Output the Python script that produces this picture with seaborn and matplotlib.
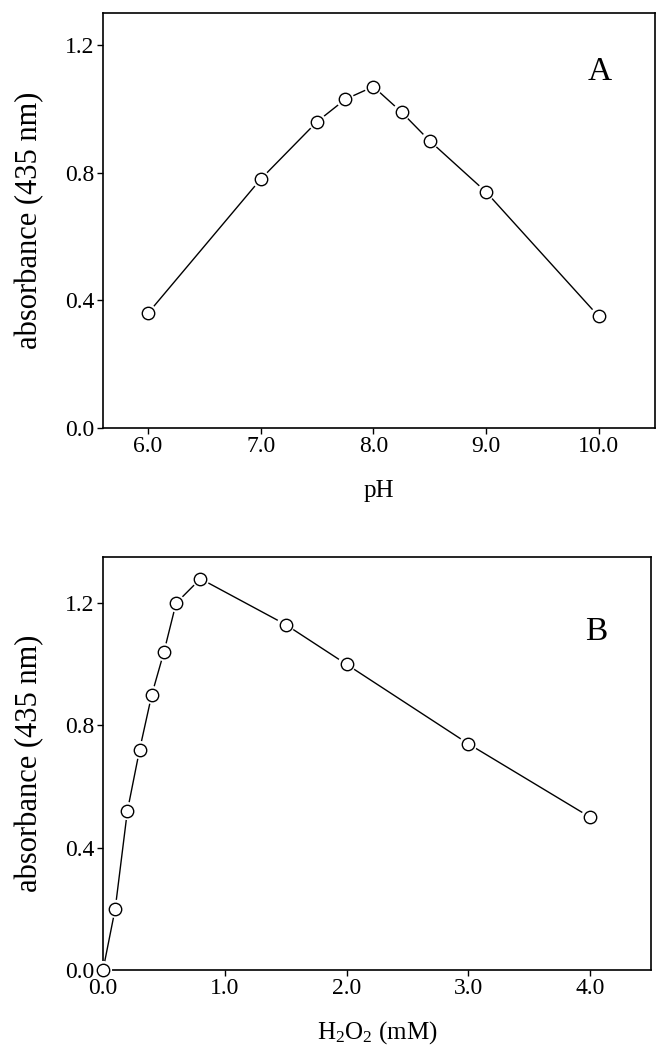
"""Absorbance at 435 nm versus pH (A) and H2O2 concentration (B)."""

import matplotlib
matplotlib.use("Agg")
import matplotlib.pyplot as plt
import pandas as pd
import seaborn as sns

# Panel A: pH dependence
ph_values = [6.0, 7.0, 7.5, 7.75, 8.0, 8.25, 8.5, 9.0, 10.0]
ph_absorbance = [0.36, 0.78, 0.96, 1.03, 1.07, 0.99, 0.90, 0.74, 0.35]

# Panel B: H2O2 concentration dependence
h2o2_mm = [0.0, 0.1, 0.2, 0.3, 0.4, 0.5, 0.6, 0.8, 1.5, 2.0, 3.0, 4.0]
h2o2_absorbance = [0.0, 0.20, 0.52, 0.72, 0.90, 1.04, 1.20, 1.28, 1.13, 1.00, 0.74, 0.50]

y_ticks = [0.0, 0.4, 0.8, 1.2]
ph_ticks = [6.0, 7.0, 8.0, 9.0, 10.0]
h2o2_ticks = [0.0, 1.0, 2.0, 3.0, 4.0]


def draw_panel(ax, df, xcol, xlim, ylim, xticks, xlabel, xpad, letter, letter_y):
    """Line through the points, open circles with a white halo on top."""
    sns.lineplot(data=df, x=xcol, y='absorbance', ax=ax, color='black',
                 linewidth=1.0, sort=False, zorder=2)
    # white halo so the line stops short of each marker
    sns.scatterplot(data=df, x=xcol, y='absorbance', ax=ax, s=170,
                    color='white', edgecolor='none', zorder=3, clip_on=False)
    sns.scatterplot(data=df, x=xcol, y='absorbance', ax=ax, s=80,
                    facecolor='white', edgecolor='black', linewidth=1.0,
                    zorder=4, clip_on=False)
    ax.set_xlim(*xlim)
    ax.set_ylim(*ylim)
    ax.set_xticks(xticks)
    ax.set_xticklabels([f'{t:.1f}' for t in xticks])
    ax.set_yticks(y_ticks)
    ax.set_yticklabels([f'{t:.1f}' for t in y_ticks])
    ax.set_xlabel(xlabel, fontsize=18, labelpad=xpad)
    ax.set_ylabel('absorbance (435 nm)', fontsize=22, labelpad=15)
    ax.tick_params(axis='both', labelsize=17, length=4, width=1.0, pad=2,
                   direction='out', top=False, right=False, colors='black')
    for spine in ax.spines.values():
        spine.set_visible(True)
        spine.set_linewidth(1.2)
        spine.set_color('black')
    ax.text(0.90, letter_y, letter, transform=ax.transAxes, fontsize=24,
            ha='center', va='center', color='black')


def main() -> None:
    sns.set_theme(style='ticks')
    plt.rcParams['font.family'] = ['Liberation Serif', 'DejaVu Serif']
    plt.rcParams['mathtext.fontset'] = 'custom'
    plt.rcParams['mathtext.rm'] = 'Liberation Serif'
    plt.rcParams['mathtext.it'] = 'Liberation Serif:italic'
    plt.rcParams['text.color'] = 'black'
    plt.rcParams['axes.labelcolor'] = 'black'

    df_ph = pd.DataFrame({'pH': ph_values, 'absorbance': ph_absorbance})
    df_h2o2 = pd.DataFrame({'h2o2': h2o2_mm, 'absorbance': h2o2_absorbance})

    fig = plt.figure(figsize=(6.69, 10.5), dpi=100)
    ax_a = fig.add_axes([0.154, 0.5924, 0.825, 0.395])
    ax_b = fig.add_axes([0.154, 0.0762, 0.819, 0.393])

    draw_panel(ax_a, df_ph, 'pH', (5.6, 10.5), (0.0, 1.3), ph_ticks,
               'pH', 16, 'A', 0.86)
    draw_panel(ax_b, df_h2o2, 'h2o2', (0.0, 4.5), (0.0, 1.35), h2o2_ticks,
               r'H$_2$O$_2$ (mM)', 14, 'B', 0.82)

    fig.savefig('out.png', dpi=100, facecolor='white')


if __name__ == "__main__":
    main()
